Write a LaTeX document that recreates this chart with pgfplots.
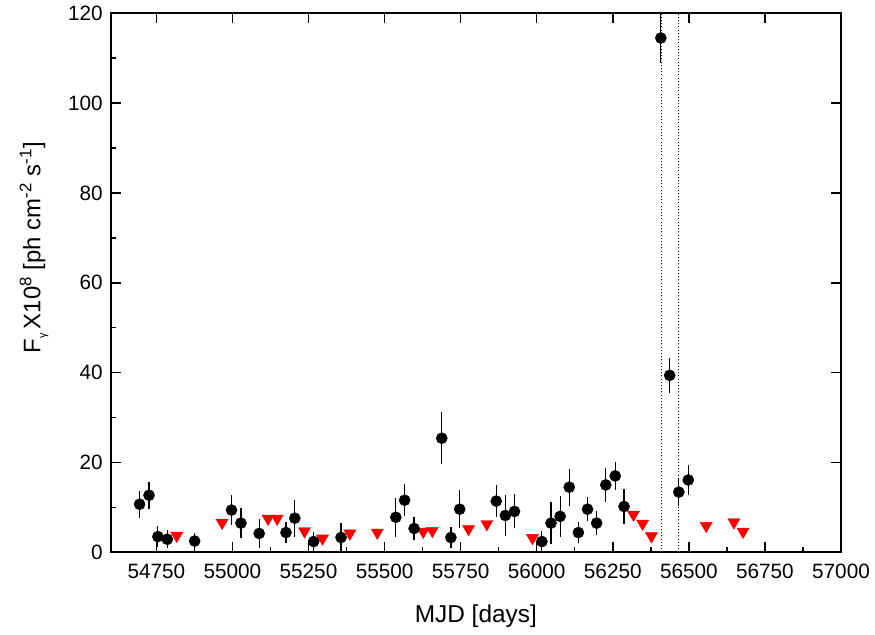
\documentclass[border=0pt]{standalone}
\usepackage{fontspec}
\setmainfont{Liberation Sans}
\usepackage{pgfplots}
\usepackage{pgfplotstable}
\pgfplotsset{compat=1.18}

% detections: MJD, flux, error
\pgfplotstableread{
x y ey
54695 10.7 3.0
54726 12.7 3.0
54755 3.5 2.3
54786 2.9 2.0
54876 2.5 1.7
54997 9.4 3.3
55028 6.5 3.3
55088 4.2 3.3
55176 4.4 2.4
55205 7.6 4.1
55267 2.4 2.2
55357 3.3 3.3
55537 7.8 4.3
55566 11.6 3.6
55597 5.3 2.6
55688 25.4 5.8
55718 3.3 2.4
55747 9.6 4.2
55867 11.4 3.6
55897 8.2 4.6
55927 9.1 3.8
56017 2.4 2.3
56047 6.5 4.7
56077 8.0 4.6
56107 14.5 4.1
56137 4.4 2.3
56167 9.6 2.7
56197 6.5 2.6
56227 15.0 3.7
56258 17.0 3.2
56287 10.2 3.8
56408 114.5 5.5
56437 39.4 3.9
56467 13.4 3.2
56498 16.1 3.4
}\det

% upper limits
\pgfplotstableread{
x y
54817 3.7
54966 6.6
55117 7.5
55147 7.5
55237 4.7
55296 3.1
55386 4.2
55476 4.4
55627 4.6
55657 4.8
55776 5.2
55836 6.3
55986 3.2
56318 8.4
56348 6.4
56377 3.6
56557 5.9
56648 6.7
56678 4.6
}\ul

\begin{document}
\begin{tikzpicture}[font=\fontsize{20.8}{25}\selectfont]
\pgfplotsset{
  base/.style={
    scale only axis, width=730.3bp, height=539bp,
    xmin=54600, xmax=57000, ymin=0, ymax=120,
    axis line style={line width=1.8bp},
    tick style={line width=1.5bp, black},
    major tick length=10bp, minor tick length=5bp,
    tick align=inside,
    xtick={54750,55000,...,57000}, ytick={0,20,...,120},
    scaled ticks=false,
    /pgf/number format/assume math mode=true,
    /pgf/number format/1000 sep={},
  }
}
\begin{axis}[base,
  xtick pos=left, ytick pos=left,
  minor x tick num=1, minor y tick num=1,
  xticklabel style={yshift=-8bp, /pgf/number format/fixed, /pgf/number format/precision=0},
  yticklabel style={xshift=-4.5bp},
  xlabel={\fontsize{24.5}{28}\selectfont MJD [days]},
  xlabel style={at={(axis description cs:0.5,-0.131)}, anchor=base},
  ylabel={\fontsize{24}{28}\selectfont F\raisebox{-0.45ex}{\fontsize{11}{12}\selectfont γ}\,X10\textsuperscript{8} [ph cm\textsuperscript{-2} s\textsuperscript{-1}]},
  ylabel style={at={(axis description cs:-0.105,0.565)}, anchor=center},
]
\addplot[black, line width=0.7bp, dash pattern=on 1bp off 2.2bp] coordinates {(56411,0)(56411,120)};
\addplot[black, line width=0.7bp, dash pattern=on 1bp off 2.2bp] coordinates {(56464,0)(56464,120)};
\addplot[only marks, mark=triangle*, mark size=7pt, mark options={rotate=180, fill=red, draw=red}, red] table[x=x, y=y] {\ul};
\addplot[only marks, mark=*, mark size=5.6pt, black,
  error bars/.cd, y dir=both, y explicit,
  error bar style={line width=1.2bp, black}, error mark=none]
  table[x=x, y=y, y error=ey] {\det};
\end{axis}
\begin{axis}[base,
  xtick pos=right, ytick pos=right,
  xticklabels={}, yticklabels={},
]
\end{axis}
\path ([xshift=-110.7bp, yshift=-82.7bp]current axis.south west) rectangle ([xshift=34bp, yshift=13.3bp]current axis.north east);
\end{tikzpicture}
\end{document}
